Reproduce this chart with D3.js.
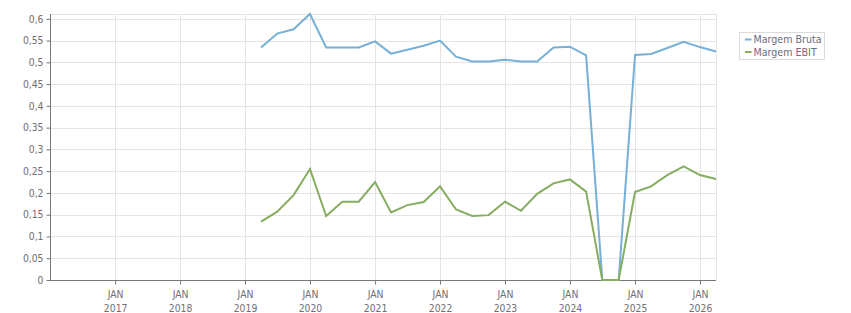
<!DOCTYPE html>
<html>
<head>
<meta charset="utf-8">
<script src="https://cdn.jsdelivr.net/npm/d3@7"></script>
<style>
	body { margin: 0; background: #fff; }
	text { font-family: "DejaVu Sans Condensed", "Liberation Sans", sans-serif; font-size: 10px; fill: #6e6e78; }
</style>
</head>
<body>
<script>
// quarterly data
var quarters = ["2019-04", "2019-07", "2019-10", "2020-01", "2020-04", "2020-07", "2020-10",
	"2021-01", "2021-04", "2021-07", "2021-10", "2022-01", "2022-04", "2022-07", "2022-10",
	"2023-01", "2023-04", "2023-07", "2023-10", "2024-01", "2024-04", "2024-07", "2024-10",
	"2025-01", "2025-04", "2025-07", "2025-10", "2026-01", "2026-04"];

var margemBruta = [0.534, 0.566, 0.576, 0.611, 0.534, 0.534, 0.534,
	0.548, 0.520, 0.529, 0.538, 0.550, 0.513, 0.502, 0.502,
	0.506, 0.502, 0.502, 0.534, 0.536, 0.516, 0, 0,
	0.517, 0.519, 0.533, 0.547, 0.535, 0.525];

var margemEbit = [0.134, 0.157, 0.195, 0.255, 0.147, 0.180, 0.180,
	0.225, 0.155, 0.172, 0.179, 0.215, 0.162, 0.147, 0.149,
	0.180, 0.159, 0.198, 0.222, 0.231, 0.203, 0, 0,
	0.202, 0.215, 0.241, 0.261, 0.241, 0.232];

var yTicks = [0, 0.05, 0.1, 0.15, 0.2, 0.25, 0.3, 0.35, 0.4, 0.45, 0.5, 0.55, 0.6];
var yearTicks = [2017, 2018, 2019, 2020, 2021, 2022, 2023, 2024, 2025, 2026];

var series = [
	{"name": "Margem Bruta", "values": margemBruta, "color": "#76b0d6"},
	{"name": "Margem EBIT", "values": margemEbit, "color": "#86ad62"}
];

function drawChart()
{
	var parse = d3.timeParse("%Y-%m");
	var dates = quarters.map(parse);

	var left = 50, right = 716, top = 14, bottom = 280;

	var svg = d3.select("body").append("svg")
		.attr("width", 851)
		.attr("height", 313);

	var x = d3.scaleTime()
		.domain([new Date(2016, 0, 1), dates[dates.length - 1]])
		.range([left, right]);

	var y = d3.scaleLinear()
		.domain([0, d3.max(margemBruta)])
		.range([bottom, top]);

	// grid
	svg.append("g").selectAll("line")
		.data(yTicks).enter().append("line")
		.attr("x1", left).attr("x2", right)
		.attr("y1", function(d){ return Math.round(y(d)) + 0.5; })
		.attr("y2", function(d){ return Math.round(y(d)) + 0.5; })
		.attr("stroke", "#e4e4e4");

	svg.append("g").selectAll("line")
		.data(yearTicks).enter().append("line")
		.attr("x1", function(d){ return Math.round(x(new Date(d, 0, 1))) + 0.5; })
		.attr("x2", function(d){ return Math.round(x(new Date(d, 0, 1))) + 0.5; })
		.attr("y1", top).attr("y2", bottom)
		.attr("stroke", "#e4e4e4");

	// border top / right
	svg.append("path")
		.attr("d", "M" + left + "," + (top + 0.5) + "H" + (right + 0.5) + "V" + bottom)
		.attr("fill", "none")
		.attr("stroke", "#e4e4e4");

	// y axis
	var yAxis = svg.append("g")
		.attr("transform", "translate(" + (left + 0.5) + ",0)")
		.call(d3.axisLeft(y)
			.tickValues(yTicks)
			.tickSize(4)
			.tickPadding(3)
			.tickFormat(function(d){ return String(+d.toFixed(2)).replace(".", ","); }));

	// x axis
	var xAxis = svg.append("g")
		.attr("transform", "translate(0," + (bottom + 0.5) + ")")
		.call(d3.axisBottom(x)
			.tickValues(yearTicks.map(function(d){ return new Date(d, 0, 1); }))
			.tickSize(4)
			.tickFormat(""));

	xAxis.selectAll(".tick").append("text")
		.attr("y", 17)
		.attr("text-anchor", "middle")
		.text("JAN");
	xAxis.selectAll(".tick").append("text")
		.attr("y", 31)
		.attr("text-anchor", "middle")
		.text(function(d){ return d.getFullYear(); });

	yAxis.select(".domain").attr("stroke", "#777").attr("d", "M0," + top + "V" + bottom);
	xAxis.select(".domain").attr("stroke", "#777").attr("d", "M" + left + ",0H" + right);
	svg.selectAll(".tick line").attr("stroke", "#777");
	svg.selectAll(".tick text").attr("fill", "#6e6e78").style("font-size", "10.3px");

	// lines
	var line = d3.line()
		.x(function(d, i){ return x(dates[i]); })
		.y(function(d){ return y(d); });

	svg.append("g").selectAll("path")
		.data(series).enter().append("path")
		.attr("d", function(d){ return line(d.values); })
		.attr("fill", "none")
		.attr("stroke", function(d){ return d.color; })
		.attr("stroke-width", 2);

	// legend
	var legend = svg.append("g").attr("transform", "translate(739.5,32.5)");
	legend.append("rect")
		.attr("width", 85).attr("height", 27)
		.attr("fill", "#fff")
		.attr("stroke", "#dcdcdc");

	var items = legend.selectAll("g.item")
		.data(series).enter().append("g")
		.attr("transform", function(d, i){ return "translate(0," + (7 + i * 12.5) + ")"; });
	items.append("line")
		.attr("x1", 5.5).attr("x2", 12)
		.attr("stroke", function(d){ return d.color; })
		.attr("stroke-width", 2);
	items.append("text")
		.attr("x", 14)
		.attr("y", 3.5)
		.style("font-size", "10.6px")
		.text(function(d){ return d.name; });
}

drawChart();
</script>
</body>
</html>
